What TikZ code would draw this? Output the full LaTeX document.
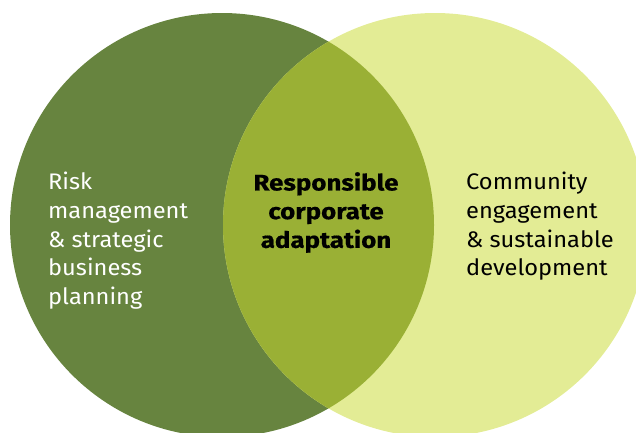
\documentclass[tikz,border=0pt]{standalone}
\usepackage{fontspec}
\setmainfont{Fira Sans}[FakeStretch=1.05]
\newfontfamily\heavy{Fira Sans}[FakeStretch=1.15, BoldFeatures={FakeBold=0.6}]
\definecolor{darkgreen}{HTML}{67843F}
\definecolor{lightgreen}{HTML}{E3EC95}
\definecolor{midgreen}{HTML}{9AB035}
\begin{document}
\begin{tikzpicture}[x=1pt,y=-1pt,
  venn/.style={circle, minimum size=424pt, inner sep=0pt},
  label/.style={font=\fontsize{22.5}{28.7}\selectfont, align=left, anchor=north west, inner sep=0pt},
  centerlabel/.style={font=\heavy\fontsize{22.5}{28.7}\selectfont\bfseries, align=center, anchor=north, inner sep=0pt}]
\useasboundingbox (0,0) rectangle (636,432);
\node[venn, fill=darkgreen] (left) at (222,225) {};
\node[venn, fill=lightgreen] (right) at (435,225) {};
\begin{scope}
  \clip (222,225) circle (212pt);
  \fill[midgreen] (435,225) circle (212pt);
\end{scope}
\node[label, text=white] (risk) at (48,172) {Risk\\management\\\& strategic\\business\\planning};
\node[label, text=black] (comm) at (466,172) {Community\\engagement\\\& sustainable\\development};
\node[centerlabel, text=black] (core) at (326,172) {Responsible\\corporate\\adaptation};
\end{tikzpicture}
\end{document}
